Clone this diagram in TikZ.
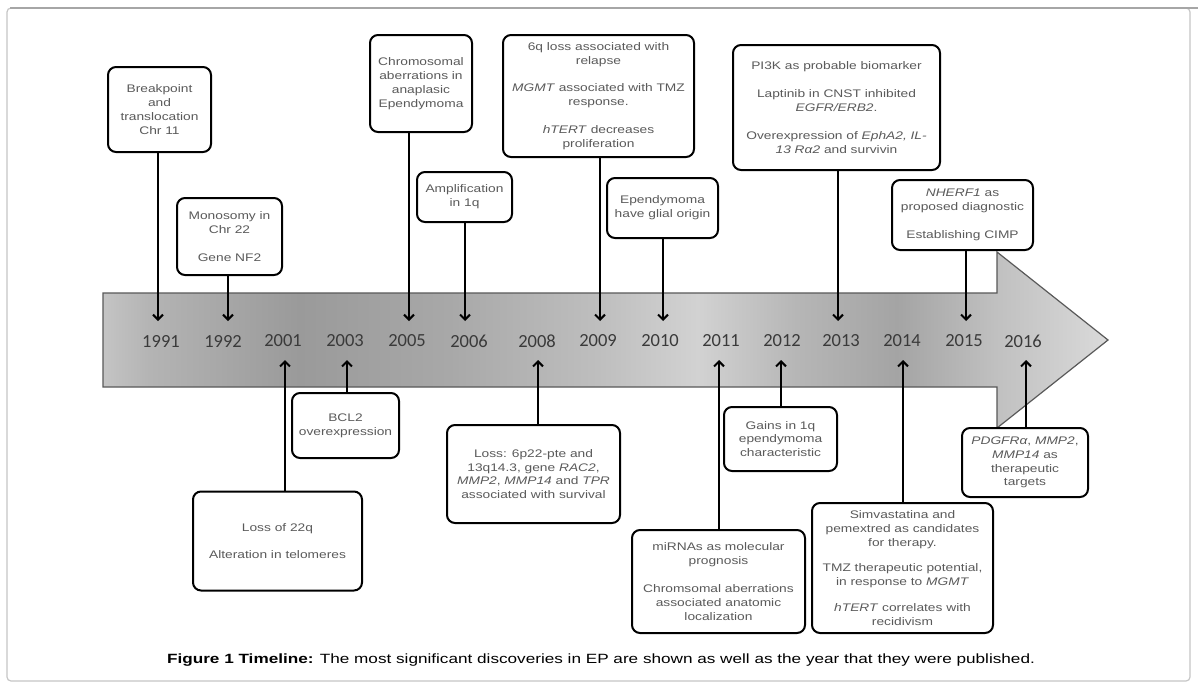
\documentclass[tikz,border=0pt]{standalone}
\usepackage{fontspec}
\setmainfont{Liberation Sans}
\newfontfamily\boxfont[FakeStretch=1.25]{Liberation Sans}
\newfontfamily\capfont[FakeStretch=1.28]{Liberation Sans}
\newfontfamily\yearfont{Carlito}
\usetikzlibrary{arrows.meta}
\definecolor{boxtext}{HTML}{5A5A5A}
\definecolor{yeartext}{HTML}{3A3A3A}
\definecolor{sA}{HTML}{C4C4C4}
\definecolor{sB}{HTML}{B4B4B4}
\definecolor{sC}{HTML}{9A9A9A}
\definecolor{sD}{HTML}{A8A8A8}
\definecolor{sE}{HTML}{BEBEBE}
\definecolor{sF}{HTML}{D2D2D2}
\definecolor{sG}{HTML}{B6B6B6}
\definecolor{sH}{HTML}{A4A4A4}
\definecolor{sI}{HTML}{C0C0C0}
\definecolor{sJ}{HTML}{DADADA}
\pgfdeclarehorizontalshading{tlshade}{100bp}{color(0bp)=(sA); color(25bp)=(sA); color(27.3bp)=(sB); color(34.75bp)=(sC); color(42.2bp)=(sD); color(49.6bp)=(sE); color(54.6bp)=(sF); color(59.5bp)=(sG); color(64.5bp)=(sH); color(69.4bp)=(sI); color(75bp)=(sJ); color(100bp)=(sJ)}
\tikzset{
  bx/.style={draw=black, line width=2pt, rounded corners=8pt, fill=white, align=center, inner sep=0pt,
    font=\boxfont\fontsize{11}{13.8}\selectfont, text=boxtext},
  yr/.style={font=\yearfont\fontsize{18.5}{20}\selectfont, text=yeartext, inner sep=0pt},
  conn/.style={line width=2pt, draw=black, -{Straight Barb[length=5pt,width=10pt]}},
}
\begin{document}
\begin{tikzpicture}[x=1pt,y=-1pt]
\useasboundingbox (0,0) rectangle (1198,683);
\fill[white] (0,0) rectangle (1198,683);
% frame
\draw[gray!45, line width=1.2pt, rounded corners=4pt] (7,8) rectangle (1190,681);
\draw[gray!70, line width=2.5pt] (10,8) -- (1198,8);
% big arrow
\shade[shading=tlshade, draw=black!65, line width=1.2pt]
  (103,293) -- (997,293) -- (997,252) -- (1108,340) -- (997,428) -- (997,387) -- (103,387) -- cycle;
% years
\node[yr] (y1991) at (161,341) {1991};
\node[yr] (y1992) at (223,341) {1992};
\node[yr] (y2001) at (283,341) {2001};
\node[yr] (y2003) at (345,341) {2003};
\node[yr] (y2005) at (407,341) {2005};
\node[yr] (y2006) at (469,341) {2006};
\node[yr] (y2008) at (537,341) {2008};
\node[yr] (y2009) at (598,341) {2009};
\node[yr] (y2010) at (660,341) {2010};
\node[yr] (y2011) at (721,341) {2011};
\node[yr] (y2012) at (782,341) {2012};
\node[yr] (y2013) at (841,341) {2013};
\node[yr] (y2014) at (902,341) {2014};
\node[yr] (y2015) at (964,341) {2015};
\node[yr] (y2016) at (1023,341) {2016};
% tips
\coordinate (t1991) at (158,321);
\coordinate (t1992) at (228,321);
\coordinate (t2005) at (409,321);
\coordinate (t2006) at (465,321);
\coordinate (t2009) at (600,321);
\coordinate (t2010) at (663,321);
\coordinate (t2013) at (838,321);
\coordinate (t2015) at (966,321);
\coordinate (t2001) at (285,360);
\coordinate (t2003) at (347,360);
\coordinate (t2008) at (538,360);
\coordinate (t2011) at (719,360);
\coordinate (t2012) at (781,360);
\coordinate (t2014) at (903,360);
\coordinate (t2016) at (1026,360);
% top boxes
\node[bx, minimum width=103pt, minimum height=85pt] (b1991) at (159.5,109.5)
  {Breakpoint\\and\\translocation\\Chr 11};
\node[bx, minimum width=105pt, minimum height=77pt] (b1992) at (229.5,236.5)
  {Monosomy in\\Chr 22\\[14pt]Gene NF2};
\node[bx, minimum width=102pt, minimum height=97pt] (b2005) at (421,83.5)
  {Chromosomal\\aberrations in\\anaplasic\\Ependymoma};
\node[bx, minimum width=95pt, minimum height=50pt] (b2006) at (464.5,197)
  {Amplification\\in 1q};
\node[bx, minimum width=191pt, minimum height=122pt] (b2009) at (598.5,96)
  {6q loss associated with\\relapse\\[14pt]\textit{MGMT} associated with TMZ\\response.\\[14pt]\textit{hTERT} decreases\\proliferation};
\node[bx, minimum width=111pt, minimum height=60pt] (b2010) at (662.5,208)
  {Ependymoma\\have glial origin};
\node[bx, minimum width=207pt, minimum height=125pt] (b2013) at (836.5,107.5)
  {PI3K as probable biomarker\\[14pt]Laptinib in CNST inhibited\\\textit{EGFR/ERB2}.\\[14pt]Overexpression of \textit{EphA2, IL-}\\\textit{13 Rα2} and survivin};
\node[bx, minimum width=141pt, minimum height=70pt] (b2015) at (962.5,215)
  {\textit{NHERF1} as\\proposed diagnostic\\[14pt]Establishing CIMP};
% bottom boxes
\node[bx, minimum width=169pt, minimum height=99pt] (b2001) at (277.5,541)
  {Loss of 22q\\[14pt]Alteration in telomeres};
\node[bx, minimum width=107pt, minimum height=65pt] (b2003) at (345.5,425.5)
  {BCL2\\overexpression};
\node[bx, minimum width=173pt, minimum height=98pt] (b2008) at (533.5,474)
  {Loss: 6p22-pte and\\13q14.3, gene \textit{RAC2},\\\textit{MMP2}, \textit{MMP14} and \textit{TPR}\\associated with survival};
\node[bx, minimum width=113pt, minimum height=64pt] (b2012) at (780.5,439)
  {Gains in 1q\\ependymoma\\characteristic};
\node[bx, minimum width=173pt, minimum height=103pt] (b2011) at (718.5,581.5)
  {miRNAs as molecular\\prognosis\\[14pt]Chromsomal aberrations\\associated anatomic\\localization};
\node[bx, minimum width=181pt, minimum height=130pt] (b2014) at (902.5,568)
  {Simvastatina and\\pemextred as candidates\\for therapy.\\[12pt]TMZ therapeutic potential,\\in response to \textit{MGMT}\\[12pt]\textit{hTERT} correlates with\\recidivism};
\node[bx, minimum width=126pt, minimum height=69pt] (b2016) at (1025,462.5)
  {\textit{PDGFRα}, \textit{MMP2},\\\textit{MMP14} as\\therapeutic\\targets};
% connectors
\foreach \y in {1991,1992,2005,2006,2009,2010,2013,2015}
  \draw[conn] (b\y.south -| t\y) -- (t\y);
\foreach \y in {2001,2003,2008,2011,2012,2014,2016}
  \draw[conn] (b\y.north -| t\y) -- (t\y);
% caption
\node[font=\capfont\fontsize{13.4}{16}\selectfont, inner sep=0pt] (cap) at (601,660)
  {\textbf{Figure 1 Timeline:} The most significant discoveries in EP are shown as well as the year that they were published.};
\end{tikzpicture}
\end{document}
